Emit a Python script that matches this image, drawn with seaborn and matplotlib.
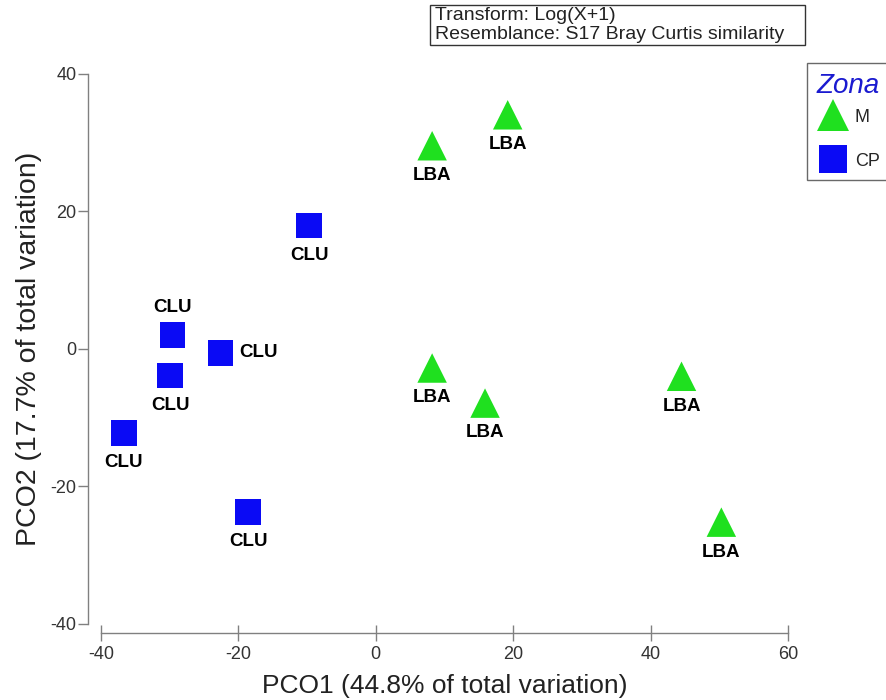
import matplotlib
matplotlib.use("Agg")
import matplotlib.pyplot as plt
from matplotlib.patches import Rectangle
import seaborn as sns
import pandas as pd

# ---- data ----
pco1 = [-9.7, -29.6, -22.6, -29.9, -36.7, -18.6,
        8.2, 19.2, 8.2, 15.9, 44.5, 50.3]
pco2 = [17.9, 2.0, -0.6, -3.9, -12.2, -23.7,
        29.5, 34.0, -2.8, -7.9, -4.0, -25.2]
zona = ["CP"] * 6 + ["M"] * 6
labels = ["CLU"] * 6 + ["LBA"] * 6
label_pos = ["below", "above", "right", "below", "below", "below",
             "below", "below", "below", "below", "below", "below"]
x_ticks = [-40, -20, 0, 20, 40, 60]
y_ticks = [-40, -20, 0, 20, 40]

df = pd.DataFrame({"PCO1": pco1, "PCO2": pco2, "Zona": zona, "Label": labels})

sns.set_style("white")
plt.rcParams["font.family"] = ["Liberation Sans", "DejaVu Sans"]
plt.rcParams["axes.unicode_minus"] = False

fig = plt.figure(figsize=(8.86, 7.0), dpi=100)
ax = fig.add_axes([101 / 886, 76 / 700, 687 / 886, 550.5 / 700])

sns.scatterplot(data=df, x="PCO1", y="PCO2", hue="Zona", style="Zona", size="Zona",
                hue_order=["M", "CP"], style_order=["M", "CP"], size_order=["M", "CP"],
                palette={"M": "#1fe01f", "CP": "#0a0af5"},
                markers={"M": "^", "CP": "s"}, sizes={"M": 450, "CP": 345},
                linewidth=0, ax=ax, legend="full", zorder=3)

offsets = {"below": (0, -21.5), "above": (0, 20), "right": (27, 0)}
for xv, yv, lab, pos in zip(pco1, pco2, labels, label_pos):
    dx, dy = offsets[pos]
    ax.annotate(lab, (xv, yv), xytext=(dx, dy), textcoords="offset points",
                ha="center", va="center",
                fontsize=13.5, fontweight="bold", color="black", zorder=4)

ax.set_xlim(-40, 60)
ax.set_ylim(-40, 40)
ax.set_xticks(x_ticks)
ax.set_yticks(y_ticks)
ax.set_xlabel("PCO1 (44.8% of total variation)", fontsize=19, color="#222222", labelpad=8)
ax.set_ylabel("PCO2 (17.7% of total variation)", fontsize=20.5, color="#222222", labelpad=6)

for side in ["top", "right"]:
    ax.spines[side].set_visible(False)
ax.spines["left"].set_position(("outward", 9.5))
ax.spines["bottom"].set_position(("outward", 6.5))
for side in ["left", "bottom"]:
    ax.spines[side].set_color("#808080")
    ax.spines[side].set_linewidth(1.0)
ax.tick_params(axis="y", direction="out", length=7.5, width=1.0,
               color="#808080", labelsize=13, labelcolor="#333333", pad=0.5, left=True)
ax.tick_params(axis="x", direction="inout", length=12, width=1.0,
               color="#808080", labelsize=13, labelcolor="#333333", pad=3.5, bottom=True)

leg = ax.legend(loc="upper left", bbox_to_anchor=(807 / 886, 1 - 63 / 700),
                bbox_transform=fig.transFigure, frameon=True, fancybox=False,
                edgecolor="#444444", fontsize=13, title="Zona",
                borderpad=0.55, labelspacing=1.5, handletextpad=0.3,
                handlelength=1.8, markerscale=1.1, borderaxespad=0)
leg.get_title().set_color("#1a1ad0")
leg.get_title().set_fontstyle("italic")
leg.get_title().set_fontsize(20)
leg._legend_box.align = "left"
leg._legend_box.sep = 7
leg.get_frame().set_linewidth(1.0)

fig.patches.append(Rectangle((430 / 886, 1 - 45 / 700), 375 / 886, 40 / 700,
                             transform=fig.transFigure, facecolor="white",
                             edgecolor="#333333", linewidth=1.0))
fig.text(435 / 886, 1 - 25 / 700, "Transform: Log(X+1)\nResemblance: S17 Bray Curtis similarity",
         fontsize=14, color="#222222", ha="left", va="center", linespacing=1.1)

fig.savefig("out.png", dpi=100)
